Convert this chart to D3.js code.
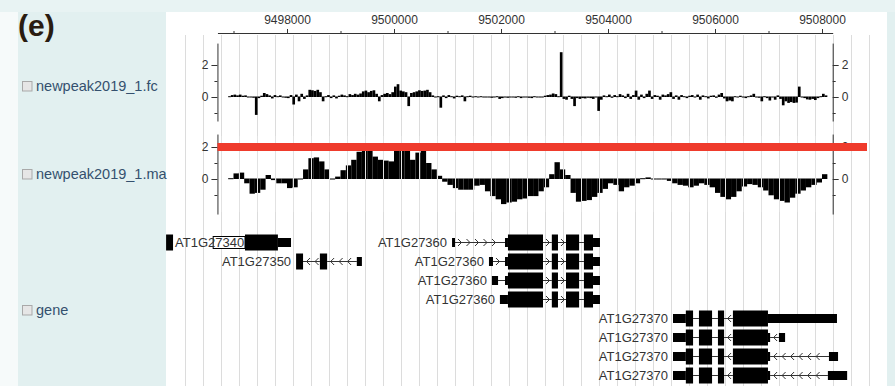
<!DOCTYPE html>
<html><head><meta charset="utf-8">
<script src="https://cdn.jsdelivr.net/npm/d3@7"></script>
<style>
html,body{margin:0;padding:0;background:#fff;}
svg{display:block;font-family:"Liberation Sans",Arial,sans-serif;}
</style></head><body>
<svg id="chart" width="895" height="386"></svg>
<script>
// ---------- data ----------
const axisMajor = [9498000, 9500000, 9502000, 9504000, 9506000, 9508000];
const axisMinor = [9497000, 9499000, 9501000, 9503000, 9505000, 9507000];
const trackNames = ["newpeak2019_1.fc", "newpeak2019_1.ma", "gene"];
const yTickLabels = [0, 2];
const yMinorTicks = [-1, 1];

// fold-change track, 50 bp bins
const fcStart = 9496900, fcBin = 50;
const fcValues = [
  0.05, 0.12, 0.15, 0.1, 0.15, 0.08, 0.1, 0.02, -0.05, -0.08,
  -1.15, -0.1, 0.08, 0.25, 0.18, 0.1, -0.12, 0.12, 0.05, 0.1,
  0.02, -0.08, -0.1, 0.12, -0.5, 0.15, -0.3, 0.2, -0.15, 0.1,
  0.45, 0.42, 0.38, 0.45, 0.3, -0.3, 0.05, 0.12, -0.1, 0.1,
  -0.12, 0.08, 0.15, 0.1, 0.05, 0.18, 0.12, 0.2, 0.15, 0.22,
  0.35, 0.4, 0.3, 0.38, 0.42, 0.2, -0.3, 0.12, 0.2, 0.25,
  0.18, 0.3, 0.65, 0.8, 0.4, 0.35, 0.3, -0.6, 0.25, 0.3,
  0.35, 0.42, 0.38, 0.4, 0.45, 0.3, 0.1, -0.05, 0.05, -0.7,
  0.1, -0.1, 0.12, 0.05, -0.12, 0.08, 0.05, 0.1, -0.3, 0.05,
  0.08, 0.02, 0.05, -0.05, 0.05, 0.02, 0.0, 0.02, -0.08, -0.05,
  0.05, -0.15, -0.1, -0.05, -0.08, 0.02, -0.05, -0.08, 0.05, -0.1,
  -0.05, 0.02, -0.08, -0.1, 0.05, -0.05, 0.02, -0.05, 0.08, 0.12,
  0.15, 0.22, 0.18, 0.05, 2.8, -0.15, -0.2, 0.08, -0.15, -0.6,
  -0.1, -0.15, -0.1, -0.12, -0.08, -0.1, -0.15, -0.05, -0.9, -0.2,
  0.1, 0.05, 0.15, -0.08, 0.12, 0.05, 0.18, 0.1, -0.1, 0.2,
  -0.15, 0.12, 0.4, -0.2, 0.15, -0.1, 0.2, 0.4, -0.15, 0.12,
  0.08, -0.2, 0.15, 0.1, 0.18, 0.3, -0.15, 0.1, -0.2, 0.12,
  0.05, -0.1, 0.08, 0.12, -0.05, 0.15, -0.2, 0.1, 0.05, -0.12,
  0.08, 0.1, -0.08, 0.15, 0.25, -0.12, -0.3, -0.25, -0.3, 0.05,
  -0.05, 0.08, 0.02, -0.1, 0.05, 0.1, 0.2, -0.05, -0.08, -0.3,
  0.05, -0.1, -0.25, 0.02, -0.2, 0.1, -0.15, -0.55, -0.3, -0.4,
  -0.35, -0.4, -0.38, 0.65, -0.05, -0.1, -0.18, -0.2, -0.15, -0.22,
  -0.1, 0.05, 0.2, 0.1
];

// moving-average track, 100 bp bins
const maStart = 9496900, maBin = 100;
const maValues = [
  0.05, 0.35, 0.4, -0.3, -0.95, -0.9, -0.7, 0.25, -0.1, -0.3,
  -0.3, -0.6, -0.55, -0.05, 0.6, 1.3, 1.35, 1.1, 0.6, -0.05,
  0.15, 0.55, 0.85, 1.2, 1.7, 2.0, 1.8, 1.4, 1.2, 1.15,
  1.1, 1.9, 2.05, 1.9, 1.2, 1.65, 1.75, 1.0, 0.6, 0.2,
  -0.2, -0.4, -0.6, -0.7, -0.7, -0.7, -0.45, -0.4, -0.8, -1.1,
  -1.3, -1.6, -1.5, -1.45, -1.3, -1.25, -1.1, -1.1, -0.8, -0.55,
  0.3, 1.05, 0.6, 0.25, -0.9, -1.45, -1.4, -1.35, -1.15, -0.9,
  -0.65, -0.3, -0.4, -0.8, -0.55, -0.45, -0.3, 0.05, 0.1, -0.05,
  -0.05, -0.05, -0.15, -0.3, -0.4, -0.45, -0.55, -0.45, -0.3, -0.4,
  -0.55, -0.9, -1.15, -1.3, -1.15, -0.8, -0.5, -0.35, -0.4, -0.55,
  -0.75, -1.05, -1.3, -1.4, -1.5, -1.2, -0.95, -0.75, -0.55, -0.4,
  -0.25, 0.3
];
const maThreshold = 2;

// gene models: [start, end, kind]
const tailA360 = [[9502075, 9502130, "utr"], [9502130, 9502785, "cds"], [9502950, 9503065, "cds"],
                  [9503215, 9503460, "cds"], [9503550, 9503720, "cds"], [9503720, 9503850, "utr"]];
const headA370 = [[9505215, 9505455, "utr"], [9505455, 9505590, "cds"], [9505700, 9505945, "cds"],
                  [9506055, 9506170, "cds"], [9506335, 9506990, "cds"]];
const transcripts = [
  {name: "AT1G27340", row: 0, strand: 0,
   parts: [[9495740, 9495870, "cds"], [9496620, 9497215, "masked"], [9497215, 9497830, "cds"], [9497830, 9498075, "utr"]]},
  {name: "AT1G27350", row: 1, strand: -1,
   parts: [[9498170, 9498300, "cds"], [9498615, 9498750, "cds"], [9499305, 9499400, "utr"]]},
  {name: "AT1G27360", row: 0, strand: 1, parts: [[9501085, 9501140, "utr"], ...tailA360]},
  {name: "AT1G27360", row: 1, strand: 1, parts: [[9501775, 9501850, "utr"], ...tailA360]},
  {name: "AT1G27360", row: 2, strand: 1, parts: [[9501830, 9501945, "utr"], ...tailA360]},
  {name: "AT1G27360", row: 3, strand: 1, parts: [[9501980, 9502130, "utr"], ...tailA360.slice(1)]},
  {name: "AT1G27370", row: 4, strand: -1, parts: [...headA370, [9506990, 9508280, "utr"]]},
  {name: "AT1G27370", row: 5, strand: -1, parts: [...headA370, [9506990, 9507030, "utr"], [9507195, 9507310, "utr"]]},
  {name: "AT1G27370", row: 6, strand: -1, parts: [...headA370, [9506990, 9507030, "utr"], [9508130, 9508300, "utr"]]},
  {name: "AT1G27370", row: 7, strand: -1, parts: [...headA370, [9506990, 9507030, "utr"], [9508110, 9508470, "utr"]]}
];

// ---------- layout ----------
const W = 895, H = 386;
const svg = d3.select("#chart");
const panel = {left: 166, top: 12, right: 887};
const axisExtentBp = [9496700, 9508200];

const x = d3.scaleLinear().domain([9498000, 9508000]).range([287, 822]);
const yfc = d3.scaleLinear().domain([0, 2]).range([97, 65]);
const yma = d3.scaleLinear().domain([0, 2]).range([179, 147]);
const extend = (s, lo, hi) => s.copy().domain([lo, hi]).range([s(lo), s(hi)]);

// backgrounds
svg.append("rect").attr("width", W).attr("height", H).attr("fill", "#f6fafa");
svg.append("rect").attr("x", 18).attr("y", 0).attr("width", W - 18).attr("height", H).attr("fill", "#e2f0f0");
svg.append("rect").attr("x", 0).attr("y", 0).attr("width", W).attr("height", panel.top).attr("fill", "#e8f3f3");
svg.append("rect").attr("x", panel.left).attr("y", panel.top)
  .attr("width", panel.right - panel.left).attr("height", H - panel.top).attr("fill", "#fff");

// panel letter
svg.append("text").attr("x", 18).attr("y", 36).attr("font-size", 30).attr("font-weight", "bold")
  .attr("fill", "#2a1c10").text("(e)");

// track labels with checkboxes
const labelY = [86, 174, 310];
trackNames.forEach((n, i) => {
  svg.append("rect").attr("x", 22.5).attr("y", labelY[i] - 4.5).attr("width", 9.5).attr("height", 9.5)
    .attr("fill", "#e6e6e6").attr("stroke", "#a9a9a9").attr("stroke-width", 1);
  svg.append("text").attr("x", 36).attr("y", labelY[i] + 5).attr("font-size", 14.5)
    .attr("fill", "#34506e").text(n);
});

// vertical grid
const gridStep = 18, gridX0 = 185;
const gridXs = d3.range(gridX0, panel.right - 15, gridStep);
const gGrid = svg.append("g");
gGrid.selectAll("line").data(gridXs).join("line")
  .attr("x1", d => d + 0.5).attr("x2", d => d + 0.5).attr("y1", 35).attr("y2", H)
  .attr("stroke", "#dcdcdc").attr("stroke-width", 1);

// top coordinate axis
const xAxisScale = extend(x, axisExtentBp[0], axisExtentBp[1]);
svg.append("g").attr("transform", "translate(0,33)")
  .call(d3.axisTop(xAxisScale).tickValues(axisMajor).tickFormat(d3.format("d"))
    .tickSize(4).tickSizeOuter(0).tickPadding(5));
svg.append("g").attr("transform", "translate(0,33)")
  .call(d3.axisTop(xAxisScale).tickValues(axisMinor).tickFormat("").tickSize(2).tickSizeOuter(0))
  .select(".domain").remove();

// quantitative tracks
function drawTrack(values, start, bin, y, lo, hi) {
  const g = svg.append("g");
  g.selectAll("rect").data(values).join("rect")
    .attr("x", (d, i) => x(start + i * bin))
    .attr("width", (d, i) => x(start + (i + 1) * bin) - x(start + i * bin))
    .attr("y", d => Math.min(y(d), y(0) - 0.5))
    .attr("height", d => Math.max(Math.abs(y(d) - y(0)), 1))
    .attr("fill", "#000");
  const ya = extend(y, lo, hi);
  [[d3.axisLeft, x(axisExtentBp[0])], [d3.axisRight, x(axisExtentBp[1])]].forEach(([ax, px]) => {
    svg.append("g").attr("transform", `translate(${px},0)`)
      .call(ax(ya).tickValues(yTickLabels).tickFormat(d3.format("d")).tickSize(6).tickSizeOuter(0).tickPadding(3));
    svg.append("g").attr("transform", `translate(${px},0)`)
      .call(ax(ya).tickValues(yMinorTicks).tickFormat("").tickSize(3).tickSizeOuter(0))
      .select(".domain").remove();
  });
  return g;
}
drawTrack(fcValues, fcStart, fcBin, yfc, -1.5, 3.37);
drawTrack(maValues, maStart, maBin, yma, -2.19, 2.81);

// grid shows through the filled signal
svg.append("g").selectAll("line").data(gridXs.filter(d => d > x(axisExtentBp[0]) && d < x(axisExtentBp[1]))).join("line")
  .attr("x1", d => d + 0.5).attr("x2", d => d + 0.5).attr("y1", 136).attr("y2", 212)
  .attr("stroke", "#e2e2e2").attr("stroke-width", 1);

// threshold line
svg.append("line").attr("x1", x(axisExtentBp[0])).attr("x2", 867)
  .attr("y1", yma(maThreshold)).attr("y2", yma(maThreshold))
  .attr("stroke", "#ef3b2c").attr("stroke-width", 8);

// axis text styling
svg.selectAll(".tick text").attr("font-size", 12).attr("fill", "#333").attr("font-family", "Liberation Sans, Arial, sans-serif");
svg.selectAll(".domain, .tick line").attr("stroke", "#333");

// gene track
const rowY = r => 242 + r * 19;
const hCds = 16, hUtr = 9;
const gGenes = svg.append("g");
transcripts.forEach(t => {
  const y = rowY(t.row);
  const g = gGenes.append("g");
  const first = t.parts[0];
  const offLeft = x(first[0]) < panel.left + 2;
  // introns
  if (t.strand !== 0) {
    for (let k = 1; k < t.parts.length; k++) {
      const a = x(t.parts[k - 1][1]), b = x(t.parts[k][0]);
      if (b - a < 1) continue;
      g.append("line").attr("x1", a).attr("x2", b).attr("y1", y + 0.5).attr("y2", y + 0.5)
        .attr("stroke", "#333").attr("stroke-width", 1);
      for (let cx = a + 5; cx < b - 3; cx += 8.5) {
        const s = t.strand;
        g.append("path")
          .attr("d", `M${cx - 2 * s},${y - 3} L${cx + 1.5 * s},${y + 0.5} L${cx - 2 * s},${y + 4}`)
          .attr("fill", "none").attr("stroke", "#333").attr("stroke-width", 1);
      }
    }
  }
  // exons
  t.parts.forEach(([s, e, kind]) => {
    const h = kind === "utr" ? hUtr : kind === "masked" ? 12 : hCds;
    g.append("rect").attr("x", x(s)).attr("width", Math.max(x(e) - x(s), 1))
      .attr("y", y - h / 2 + 0.5).attr("height", h)
      .attr("fill", kind === "masked" ? "#fff" : "#000")
      .attr("stroke", kind === "masked" ? "#000" : "none").attr("stroke-width", 1);
  });
  // name
  const lbl = g.append("text").attr("font-size", 13).attr("fill", "#333").attr("y", y + 5).text(t.name);
  if (offLeft) lbl.attr("x", x(first[1]) + 2).attr("text-anchor", "start");
  else lbl.attr("x", x(first[0]) - 5).attr("text-anchor", "end");
});
</script>
</body></html>
